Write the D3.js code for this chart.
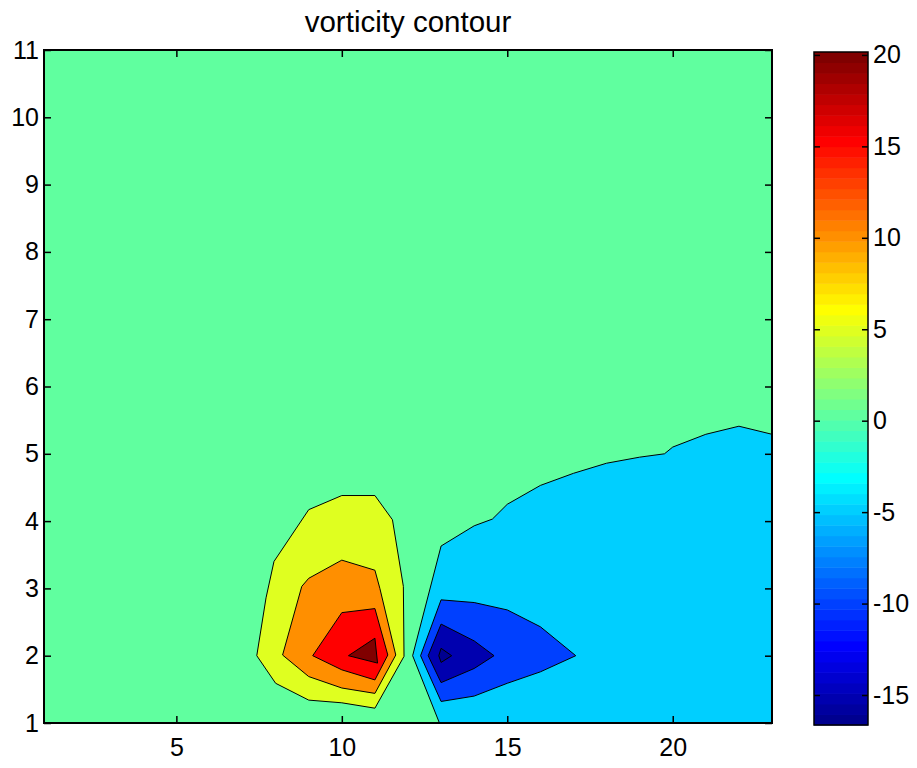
<!DOCTYPE html>
<html>
<head>
<meta charset="utf-8">
<script src="https://cdn.jsdelivr.net/npm/d3@7"></script>
<style>
  html, body { margin: 0; padding: 0; background: #fff; }
  svg { display: block; font-family: "Liberation Sans", Arial, sans-serif; }
</style>
</head>
<body>
<svg id="chart" width="917" height="768"></svg>
<script>
// ---------------- data ----------------
const title = "vorticity contour";
const xDomain = [1, 23];
const yDomain = [1, 11];
const xTicks = [5, 10, 15, 20];
const yTicks = [1, 2, 3, 4, 5, 6, 7, 8, 9, 10, 11];
const colorDomain = [-16.64, 20.16];
const colorTicks = [-15, -10, -5, 0, 5, 10, 15, 20];
const backgroundLevel = 0;

// filled contour polygons, in data units [x, y]
const regionMinus5 = [[12.95,1.0],[12.14,2.0],[13,3.63],[14,3.93],[14.55,4.03],[15,4.25],[16,4.53],[17,4.71],[18,4.86],[19,4.95],[19.75,5.0],[20,5.10],[21,5.29],[22,5.41],[23,5.29],[23,1.0]];
const regionMinus10 = [[13,2.83],[14,2.79],[15,2.68],[16,2.43],[17.07,2.0],[16,1.76],[15,1.59],[14,1.40],[13,1.32],[12.38,2.0]];
const regionMinus15 = [[13,2.47],[14,2.22],[14.6,2.0],[14,1.81],[13,1.60],[12.61,2.0]];
const regionMin = [[13,2.11],[13.32,2.0],[13,1.90],[12.93,2.0]];
const regionPlus5 = [[10,4.38],[11,4.38],[11.53,4.02],[11.86,3.03],[11.88,1.99],[11,1.22],[10,1.30],[9,1.34],[8,1.59],[7.43,2.0],[7.71,2.86],[7.95,3.40],[9,4.17]];
const regionPlus10 = [[10,3.42],[11,3.27],[11.15,3.0],[11.63,2.01],[11,1.44],[10,1.52],[9,1.69],[8.21,2.01],[8.79,3.03],[9,3.15]];
const regionPlus15 = [[10,2.64],[11,2.70],[11.39,2.01],[11,1.64],[10,1.79],[9.12,2.0]];
const regionPlus20 = [[11,2.26],[11.08,1.89],[10.2,2.0]];

const regions = [
  { level: -5,  points: regionMinus5 },
  { level: -10, points: regionMinus10 },
  { level: -15, points: regionMinus15 },
  { level: -16.64, points: regionMin },
  { level: 5,   points: regionPlus5 },
  { level: 10,  points: regionPlus10 },
  { level: 15,  points: regionPlus15 },
  { level: 20,  points: regionPlus20 }
];

// ---------------- style ----------------
// MATLAB jet(64)
function jet64(i) { // i: 1..64
  const m = 16;
  const u = [];
  for (let k = 1; k <= m; k++) u.push(k / m);
  for (let k = 1; k < m; k++) u.push(1);
  for (let k = m; k >= 1; k--) u.push(k / m);
  const gOff = Math.ceil(m / 2);
  const uAt = k => (k >= 1 && k <= u.length) ? u[k - 1] : 0;
  const r = uAt(i - gOff - m);
  const g = uAt(i - gOff);
  const b = uAt(i - gOff + m);
  return d3.rgb(Math.round(r * 255), Math.round(g * 255), Math.round(b * 255)).formatHex();
}
const levelIndex = new Map([[-16.64, 1], [-15, 3], [-10, 12], [-5, 21], [0, 30], [5, 38], [10, 47], [15, 56], [20, 64]]);
const fillFor = lv => jet64(levelIndex.get(lv));
const fmt = d => String(d);

// ---------------- layout ----------------
const svg = d3.select("#chart");
const plot = { left: 44, right: 772, top: 50, bottom: 723 };
const cbar = { left: 814, right: 868, top: 52, bottom: 725 };
const fontSize = 25;

const x = d3.scaleLinear().domain(xDomain).range([plot.left, plot.right]);
const y = d3.scaleLinear().domain(yDomain).range([plot.bottom, plot.top]);
const c = d3.scaleLinear().domain(colorDomain).range([cbar.bottom, cbar.top]);

const clipId = "plotclip";
svg.append("defs").append("clipPath").attr("id", clipId)
  .append("rect").attr("x", plot.left).attr("y", plot.top)
  .attr("width", plot.right - plot.left).attr("height", plot.bottom - plot.top);

const g = svg.append("g").attr("clip-path", `url(#${clipId})`);
g.append("rect")
  .attr("x", x(xDomain[0])).attr("y", y(yDomain[1]))
  .attr("width", x(xDomain[1]) - x(xDomain[0]))
  .attr("height", y(yDomain[0]) - y(yDomain[1]))
  .attr("fill", fillFor(backgroundLevel));

const line = d3.line().x(d => x(d[0])).y(d => y(d[1])).curve(d3.curveLinearClosed);
g.selectAll("path.region").data(regions).join("path")
  .attr("class", "region")
  .attr("d", d => line(d.points))
  .attr("fill", d => fillFor(d.level))
  .attr("stroke", "#000")
  .attr("stroke-width", 1)
  .attr("stroke-linejoin", "miter");

// axes: ticks inward on all four sides
const tickLen = 7;
const axisG = svg.append("g");
const xb = d3.axisBottom(x).tickValues(xTicks).tickSize(-tickLen).tickPadding(15).tickFormat(fmt);
const xt = d3.axisTop(x).tickValues(xTicks).tickSize(-tickLen).tickFormat("");
const yl = d3.axisLeft(y).tickValues(yTicks).tickSize(-tickLen).tickPadding(5).tickFormat(fmt);
const yr = d3.axisRight(y).tickValues(yTicks).tickSize(-tickLen).tickFormat("");

function styleAxis(sel) {
  sel.select(".domain").remove();
  sel.selectAll(".tick line").attr("stroke", "#000").attr("stroke-width", 1.5);
  sel.selectAll(".tick text").attr("fill", "#000").attr("font-size", fontSize)
    .attr("font-family", "Liberation Sans, Arial, sans-serif");
}
axisG.append("g").attr("transform", `translate(0,${plot.bottom})`).call(xb).call(styleAxis);
axisG.append("g").attr("transform", `translate(0,${plot.top})`).call(xt).call(styleAxis);
axisG.append("g").attr("transform", `translate(${plot.left},0)`).call(yl).call(styleAxis);
axisG.append("g").attr("transform", `translate(${plot.right},0)`).call(yr).call(styleAxis);

axisG.append("rect")
  .attr("x", plot.left).attr("y", plot.top)
  .attr("width", plot.right - plot.left).attr("height", plot.bottom - plot.top)
  .attr("fill", "none").attr("stroke", "#000").attr("stroke-width", 2);

// title
svg.append("text")
  .attr("x", (plot.left + plot.right) / 2).attr("y", 32)
  .attr("text-anchor", "middle")
  .attr("font-size", 29.5)
  .attr("fill", "#000")
  .text(title);

// colorbar: 64 bands
const bandEdges = d3.range(65).map(i => colorDomain[0] + (colorDomain[1] - colorDomain[0]) * i / 64);
const cb = svg.append("g");
cb.selectAll("rect.band").data(d3.range(64)).join("rect")
  .attr("class", "band")
  .attr("x", cbar.left)
  .attr("width", cbar.right - cbar.left)
  .attr("y", i => c(bandEdges[i + 1]))
  .attr("height", i => c(bandEdges[i]) - c(bandEdges[i + 1]) + 0.5)
  .attr("fill", i => jet64(i + 1));

const cbr = d3.axisRight(c).tickValues(colorTicks).tickSize(-6).tickPadding(5).tickFormat(fmt);
const cbl = d3.axisLeft(c).tickValues(colorTicks).tickSize(-6).tickFormat("");
cb.append("g").attr("transform", `translate(${cbar.right},0)`).call(cbr).call(styleAxis);
cb.append("g").attr("transform", `translate(${cbar.left},0)`).call(cbl).call(styleAxis);
cb.append("rect")
  .attr("x", cbar.left).attr("y", cbar.top)
  .attr("width", cbar.right - cbar.left).attr("height", cbar.bottom - cbar.top)
  .attr("fill", "none").attr("stroke", "#000").attr("stroke-width", 1.5);
</script>
</body>
</html>
